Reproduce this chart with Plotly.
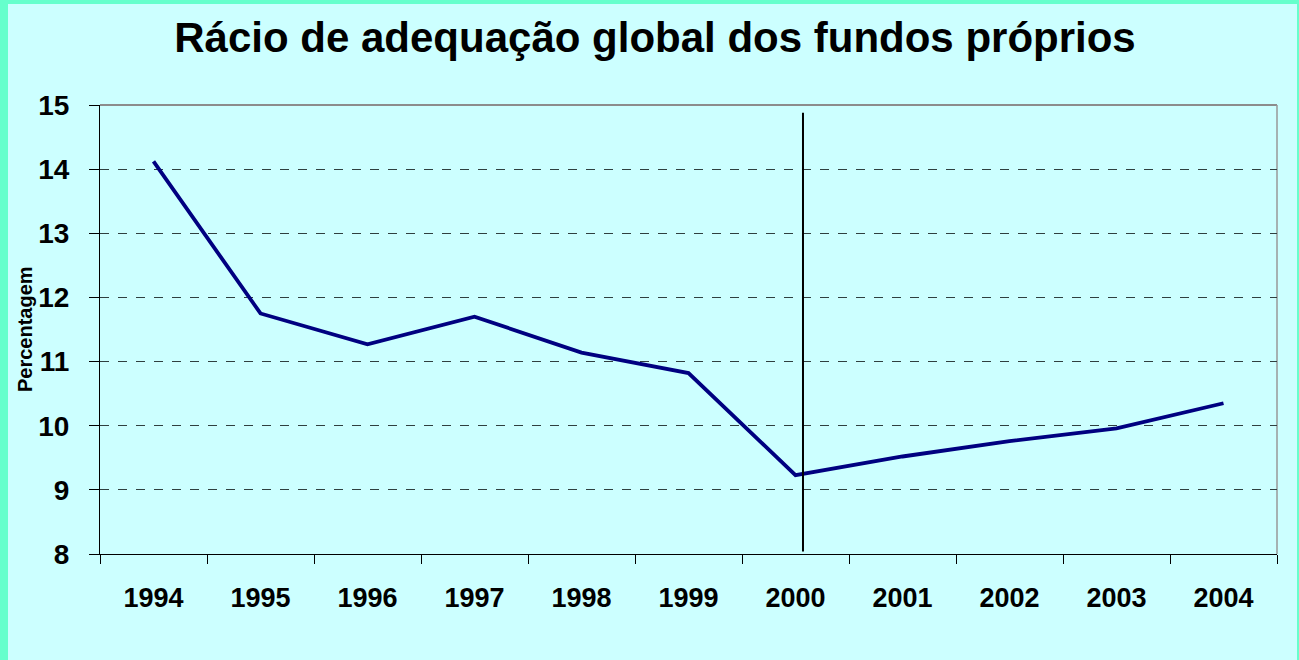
import plotly.graph_objects as go

years = ["1994", "1995", "1996", "1997", "1998", "1999", "2000", "2001", "2002", "2003", "2004"]
ratio = [14.12, 11.75, 11.27, 11.70, 11.14, 10.82, 9.23, 9.52, 9.76, 9.96, 10.35]
y_ticks = [8, 9, 10, 11, 12, 13, 14, 15]

title_text = "Rácio de adequação global dos fundos próprios"
y_title = "Percentagem"

FONT = "Liberation Sans, Arial, sans-serif"
W, H = 1299, 660
L, R, T, B = 100, 22, 105, 106
pw, ph = W - L - R, H - T - B

def px_x(p):
    return (p - L) / pw

def px_y(p):
    return (H - B - p) / ph

fig = go.Figure()
fig.add_trace(go.Scatter(
    x=years, y=ratio, mode="lines",
    line=dict(color="#000080", width=3.8),
    hoverinfo="x+y", showlegend=False,
))

shapes = [
    # cyan inner panel over green paper border
    dict(type="rect", xref="paper", yref="paper",
         x0=px_x(8), x1=px_x(1297), y0=px_y(H + 20), y1=px_y(4),
         fillcolor="#CCFFFF", line=dict(width=0), layer="below"),
    # top and right gray plot border
    dict(type="line", xref="paper", yref="paper", x0=0, x1=1, y0=1, y1=1,
         line=dict(color="#8C8C8C", width=2), layer="below"),
    dict(type="line", xref="paper", yref="paper", x0=1, x1=1, y0=0, y1=1,
         line=dict(color="#999999", width=1.5), layer="below"),
    # vertical separator line
    dict(type="line", xref="x", yref="y", x0=6.07, x1=6.07, y0=8.04, y1=14.88,
         line=dict(color="#000000", width=2)),
]

fig.update_layout(
    width=W, height=H,
    margin=dict(l=L, r=R, t=T, b=B),
    paper_bgcolor="#66FFCC",
    plot_bgcolor="#CCFFFF",
    font=dict(family=FONT, color="#000000"),
    title=dict(text=title_text, x=655 / W, xanchor="center", xref="container",
               y=1 - 37 / H, yanchor="middle", yref="container",
               font=dict(family=FONT, size=42, weight="bold", color="#000000")),
    shapes=shapes,
    annotations=[dict(text=y_title, xref="paper", yref="paper",
                      x=px_x(25), y=px_y(329), textangle=-90, showarrow=False,
                      xanchor="center", yanchor="middle",
                      font=dict(family=FONT, size=20, weight="bold", color="#000000"))],
)

fig.update_xaxes(
    type="category", range=[-0.5, 10.5],
    tickson="boundaries", ticks="outside", ticklen=9, tickcolor="#000000", tickwidth=1,
    showline=True, linecolor="#000000", linewidth=1,
    showgrid=False, zeroline=False,
    tickfont=dict(family=FONT, size=27, weight="bold", color="#000000"),
    ticklabelstandoff=20,
)
fig.update_yaxes(
    range=[8, 15], tickvals=y_ticks, ticktext=[str(v) for v in y_ticks],
    ticks="outside", ticklen=10, tickcolor="#000000", tickwidth=1,
    showline=True, linecolor="#000000", linewidth=1,
    showgrid=True, gridcolor="#2F3F3F", gridwidth=1, griddash="dash",
    zeroline=False,
    tickfont=dict(family=FONT, size=28, weight="bold", color="#000000"),
    ticklabelstandoff=14,
)

fig.write_html(
    "out.html",
    config={"displayModeBar": False},
    post_script="document.body.style.margin='0';document.body.style.overflow='hidden';"
                "document.body.style.background='#66FFCC';",
)
